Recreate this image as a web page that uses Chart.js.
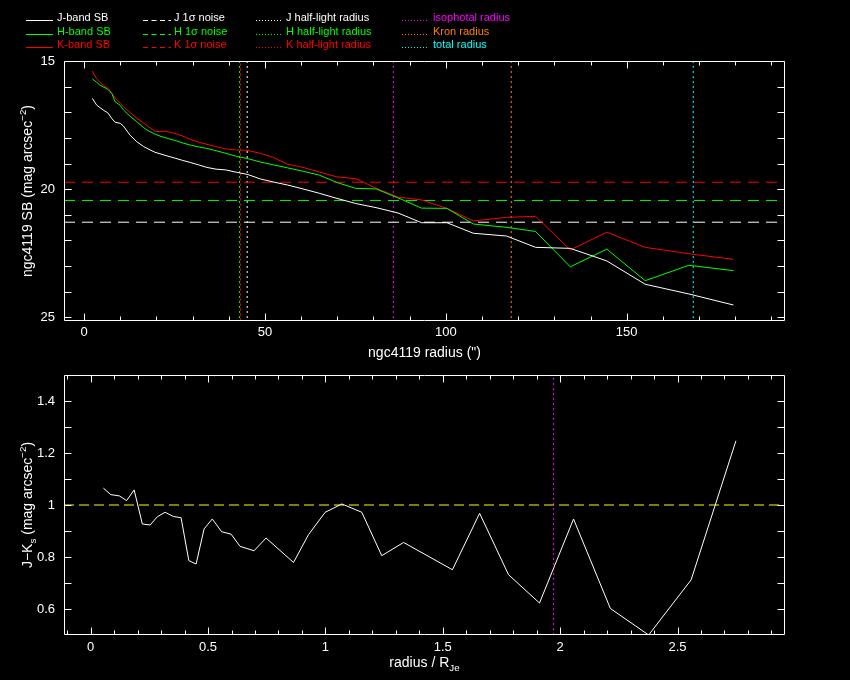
<!DOCTYPE html>
<html><head><meta charset="utf-8">
<style>
html,body{margin:0;padding:0;background:#000;}
#wrap{position:relative;width:850px;height:680px;background:#000;overflow:hidden;}
canvas{position:absolute;left:0;}
#c1{top:0;} #c2{top:365px;}
</style>
<script src="https://cdn.jsdelivr.net/npm/chart.js@4"></script>
</head><body>
<div id="wrap"><canvas id="c1" width="850" height="365"></canvas><canvas id="c2" width="850" height="315"></canvas></div>
<script>
// ---------- data ----------
const radius = [2.3, 3.5, 4.4, 5.3, 6.3, 6.7, 7.7, 8.6, 10.0, 10.9, 12.7, 14.6, 16.5, 17.7, 19.6, 21.0, 22.4, 25.4, 27.3, 29.4, 31.6, 33.9, 36.5, 39.2, 42.1, 45.3, 48.7, 52.3, 56.3, 60.5, 65.0, 69.9, 75.1, 80.7, 86.8, 93.3, 100.3, 107.6, 116.8, 124.8, 134.4, 144.5, 155.1, 167.2, 179.5];
const sbJ = [16.46, 16.72, 16.82, 16.91, 17.00, 17.04, 17.25, 17.39, 17.43, 17.54, 17.89, 18.15, 18.34, 18.43, 18.56, 18.62, 18.68, 18.80, 18.88, 18.96, 19.05, 19.15, 19.22, 19.25, 19.34, 19.43, 19.60, 19.72, 19.84, 19.99, 20.16, 20.36, 20.56, 20.72, 20.93, 21.31, 21.31, 21.72, 21.83, 22.27, 22.31, 22.80, 23.71, 24.09, 24.52];
const sbH = [15.70, 15.83, 15.94, 16.01, 16.08, 16.12, 16.27, 16.59, 16.73, 16.91, 17.15, 17.37, 17.60, 17.72, 17.85, 17.93, 17.99, 18.11, 18.20, 18.28, 18.35, 18.41, 18.50, 18.60, 18.72, 18.81, 18.94, 19.05, 19.17, 19.30, 19.45, 19.74, 19.97, 19.99, 20.34, 20.74, 20.75, 21.36, 21.49, 21.65, 23.03, 22.34, 23.57, 22.97, 23.18];
const sbK = [15.39, 15.70, 15.82, 15.94, 16.03, 16.07, 16.27, 16.44, 16.65, 16.78, 17.01, 17.24, 17.42, 17.55, 17.74, 17.76, 17.73, 17.84, 17.93, 18.06, 18.16, 18.25, 18.34, 18.43, 18.47, 18.49, 18.60, 18.76, 19.03, 19.15, 19.33, 19.52, 19.59, 19.96, 20.31, 20.42, 20.75, 21.24, 21.10, 21.06, 22.37, 21.68, 22.27, 22.52, 22.74];
const noiseLevels = [21.29, 20.44, 19.73];          // J, H, K 1-sigma noise
const halfLightRadii = [45.1, 43.0, 43.25];         // J, H, K half-light radius
const isophotalRadius = 85.5;
const kronRadius = 118.1;
const totalRadius = 168.4;

const colorRadius = [0.054, 0.085, 0.122, 0.153, 0.185, 0.220, 0.253, 0.284, 0.317, 0.352, 0.385, 0.418, 0.449, 0.483, 0.518, 0.558, 0.598, 0.636, 0.696, 0.747, 0.864, 0.928, 0.999, 1.070, 1.155, 1.240, 1.333, 1.541, 1.657, 1.780, 1.912, 2.057, 2.214, 2.377, 2.558, 2.749];
const colorJK = [1.065, 1.040, 1.035, 1.017, 1.058, 0.927, 0.923, 0.955, 0.972, 0.956, 0.951, 0.786, 0.773, 0.908, 0.946, 0.897, 0.888, 0.841, 0.824, 0.873, 0.779, 0.886, 0.972, 1.004, 0.972, 0.805, 0.856, 0.751, 0.968, 0.732, 0.623, 0.946, 0.602, 0.500, 0.712, 1.247];
const colorRef = 1.0;
const isophotalRadiusNorm = 1.972;

const topXTicks = [0, 50, 100, 150];
const topYTicks = [15, 20, 25];
const botXTicks = [0, 0.5, 1, 1.5, 2, 2.5];
const botYTicks = [0.6, 0.8, 1, 1.2, 1.4];

// ---------- styling ----------
const FONT = '"Liberation Sans", Arial, sans-serif';
const WHITE = '#ffffff', GREEN = '#00ff00', RED = '#ff0000', MAGENTA = '#ff00ff', ORANGE = '#ff8000', CYAN = '#00ffff', YELLOW = '#ffff00';
const TOP_X = [-5.53, 193.75], TOP_Y = [15, 25.144];
const BOT_X = [-0.1138, 2.958], BOT_Y = [0.5, 1.5];

function drawRich(ctx, parts, cx, cy, size, rot) {
  ctx.save();
  ctx.translate(cx, cy);
  if (rot) ctx.rotate(rot);
  ctx.fillStyle = WHITE; ctx.textBaseline = 'alphabetic'; ctx.textAlign = 'left';
  let total = 0;
  const ws = parts.map(p => { ctx.font = (p.s ? size * 0.7 : size) + 'px ' + FONT; const w = ctx.measureText(p.t).width; total += w; return w; });
  let xx = -total / 2;
  parts.forEach((p, i) => {
    ctx.font = (p.s ? size * 0.7 : size) + 'px ' + FONT;
    const dy = p.s === 'sup' ? -size * 0.45 : (p.s === 'sub' ? size * 0.28 : 0);
    ctx.fillText(p.t, xx, dy + size * 0.35);
    xx += ws[i];
  });
  ctx.restore();
}

const framePlugin = {
  id: 'frame',
  afterDatasetsDraw(chart, args, o) {
    const { ctx, chartArea: a } = chart;
    const x = chart.scales.x, y = chart.scales.y;
    ctx.save();
    ctx.strokeStyle = WHITE; ctx.lineWidth = 1; ctx.setLineDash([]);
    const L = Math.round(a.left) + 0.5, R = Math.round(a.right) - 0.5, T = Math.round(a.top) + 0.5, B = Math.round(a.bottom) - 0.5;
    ctx.beginPath();
    ctx.rect(L, T, R - L, B - T);
    const xt = (v, len) => { const p = Math.round(x.getPixelForValue(v)) + 0.5; ctx.moveTo(p, B); ctx.lineTo(p, B - len); ctx.moveTo(p, T); ctx.lineTo(p, T + len); };
    const yt = (v, len) => { const p = Math.round(y.getPixelForValue(v)) + 0.5; ctx.moveTo(L, p); ctx.lineTo(L + len, p); ctx.moveTo(R, p); ctx.lineTo(R - len, p); };
    o.xMajor.forEach(v => xt(v, 7));
    o.xMinor.forEach(v => xt(v, 4));
    o.yTicks.forEach(v => yt(v, 7));
    ctx.stroke();
    // tick labels, positioned through the chart's own scales
    ctx.fillStyle = WHITE; ctx.font = '13px ' + FONT;
    ctx.textAlign = 'center'; ctx.textBaseline = 'middle';
    o.xLabels.forEach(v => ctx.fillText(String(v), x.getPixelForValue(v), a.bottom + o.xLabelOff));
    ctx.textAlign = 'right';
    o.yLabels.forEach(v => ctx.fillText(String(v), a.left - 9, y.getPixelForValue(v)));
    ctx.restore();
  },
  afterDraw(chart, args, o) {
    const ctx = chart.ctx, a = chart.chartArea;
    const cxm = (a.left + a.right) / 2, cym = (a.top + a.bottom) / 2;
    drawRich(ctx, o.xTitle, cxm, a.bottom + o.xTitleOff, 14, 0);
    drawRich(ctx, o.yTitle, 27, cym, 14, -Math.PI / 2);
    if (o.legend) {
      ctx.save();
      ctx.lineWidth = 1;
      o.legend.forEach(it => {
        ctx.strokeStyle = it.c; ctx.setLineDash(it.dash);
        ctx.beginPath(); ctx.moveTo(it.x1, it.y + 0.5); ctx.lineTo(it.x2, it.y + 0.5); ctx.stroke();
        ctx.setLineDash([]);
        ctx.fillStyle = it.c; ctx.font = '11px ' + FONT; ctx.textBaseline = 'alphabetic'; ctx.textAlign = 'left';
        ctx.fillText(it.t, it.tx, it.y + 1);
      });
      ctx.restore();
    }
  }
};

function opts(xr, yr, rev, pad, frame) {
  return {
    responsive: false, animation: false, devicePixelRatio: 1,
    layout: { padding: pad },
    plugins: { legend: { display: false }, tooltip: { enabled: false }, frame },
    elements: { point: { radius: 0 }, line: { borderWidth: 1, tension: 0 } },
    scales: {
      x: {
        type: 'linear', min: xr[0], max: xr[1],
        grid: { display: false }, border: { display: false },
        ticks: { display: false },
        afterFit: s => { s.height = 0; }
      },
      y: {
        type: 'linear', min: yr[0], max: yr[1], reverse: rev,
        grid: { display: false }, border: { display: false },
        ticks: { display: false },
        afterFit: s => { s.width = 0; }
      }
    }
  };
}

const pts = (xs, ys) => xs.map((v, i) => ({ x: v, y: ys[i] }));
const hline = (v, xr) => [{ x: xr[0], y: v }, { x: xr[1], y: v }];
const vline = (v, yr) => [{ x: v, y: yr[0] }, { x: v, y: yr[1] }];
const ds = (label, data, color, dash, off) => ({ label, data, borderColor: color, backgroundColor: color, borderWidth: 1, borderDash: dash || [], borderDashOffset: off || 0, pointRadius: 0, fill: false });

// minor tick positions
const topXMinor = []; for (let i = 1; i <= 19; i++) if (i % 5) topXMinor.push(i * 10);
const topYAll = []; for (let i = 16; i <= 24; i++) topYAll.push(i);
const botXMinor = []; for (let i = -1; i <= 29; i++) if (i % 5) botXMinor.push(i / 10);
const botYAll = []; for (let i = 6; i <= 14; i++) botYAll.push(i / 10);

const legendItems = [
  { t: 'J-band SB', c: WHITE, dash: [], x1: 26, x2: 53, tx: 57, y: 20 },
  { t: 'H-band SB', c: GREEN, dash: [], x1: 26, x2: 53, tx: 57, y: 34 },
  { t: 'K-band SB', c: RED, dash: [], x1: 26, x2: 53, tx: 57, y: 47 },
  { t: 'J 1σ noise', c: WHITE, dash: [5, 3.5], x1: 143, x2: 171, tx: 174, y: 20 },
  { t: 'H 1σ noise', c: GREEN, dash: [5, 3.5], x1: 143, x2: 171, tx: 174, y: 34 },
  { t: 'K 1σ noise', c: RED, dash: [5, 3.5], x1: 143, x2: 171, tx: 174, y: 47 },
  { t: 'J half-light radius', c: WHITE, dash: [1, 2], x1: 256, x2: 281, tx: 286, y: 20 },
  { t: 'H half-light radius', c: GREEN, dash: [1, 2], x1: 256, x2: 281, tx: 286, y: 34 },
  { t: 'K half-light radius', c: RED, dash: [1, 2], x1: 256, x2: 281, tx: 286, y: 47 },
  { t: 'isophotal radius', c: MAGENTA, dash: [1, 2], x1: 402, x2: 427, tx: 433, y: 20 },
  { t: 'Kron radius', c: ORANGE, dash: [1, 2], x1: 402, x2: 427, tx: 433, y: 34 },
  { t: 'total radius', c: CYAN, dash: [1, 2], x1: 402, x2: 427, tx: 433, y: 47 }
];

new Chart(document.getElementById('c1'), {
  type: 'line',
  data: {
    datasets: [
      ds('J-band SB', pts(radius, sbJ), WHITE),
      ds('H-band SB', pts(radius, sbH), GREEN),
      ds('K-band SB', pts(radius, sbK), RED),
      ds('J 1σ noise', hline(noiseLevels[0], TOP_X), WHITE, [11, 7]),
      ds('H 1σ noise', hline(noiseLevels[1], TOP_X), GREEN, [11, 7]),
      ds('K 1σ noise', hline(noiseLevels[2], TOP_X), RED, [11, 7]),
      ds('J half-light radius', vline(halfLightRadii[0], TOP_Y), WHITE, [2, 3]),
      ds('H half-light radius', vline(halfLightRadii[1], TOP_Y), GREEN, [2, 3]),
      ds('K half-light radius', vline(halfLightRadii[2], TOP_Y), RED, [2, 3], 2.5),
      ds('isophotal radius', vline(isophotalRadius, TOP_Y), MAGENTA, [2, 3]),
      ds('Kron radius', vline(kronRadius, TOP_Y), ORANGE, [2, 3]),
      ds('total radius', vline(totalRadius, TOP_Y), CYAN, [2, 3])
    ]
  },
  options: opts(TOP_X, TOP_Y, true, { left: 64, right: 65, top: 61, bottom: 44 }, {
    xMajor: topXTicks, xMinor: topXMinor, yTicks: topYTicks.concat(topYAll),
    xLabels: topXTicks, yLabels: topYTicks, xLabelOff: 11,
    xTitle: [{ t: 'ngc4119 radius (")' }], xTitleOff: 31,
    yTitle: [{ t: 'ngc4119 SB (mag arcsec' }, { t: '−2', s: 'sup' }, { t: ')' }],
    legend: legendItems
  }),
  plugins: [framePlugin]
});

new Chart(document.getElementById('c2'), {
  type: 'line',
  data: {
    datasets: [
      ds('J-Ks', pts(colorRadius, colorJK), WHITE),
      ds('reference', hline(colorRef, BOT_X), YELLOW, [10, 5]),
      ds('isophotal radius', vline(isophotalRadiusNorm, BOT_Y), MAGENTA, [2, 3])
    ]
  },
  options: opts(BOT_X, BOT_Y, false, { left: 64, right: 65, top: 10, bottom: 45 }, {
    xMajor: botXTicks, xMinor: botXMinor, yTicks: botYAll,
    xLabels: botXTicks, yLabels: botYTicks, xLabelOff: 12,
    xTitle: [{ t: 'radius / R' }, { t: 'Je', s: 'sub' }], xTitleOff: 27,
    yTitle: [{ t: 'J−K' }, { t: 's', s: 'sub' }, { t: ' (mag arcsec' }, { t: '−2', s: 'sup' }, { t: ')' }]
  }),
  plugins: [framePlugin]
});
</script>
</body></html>
